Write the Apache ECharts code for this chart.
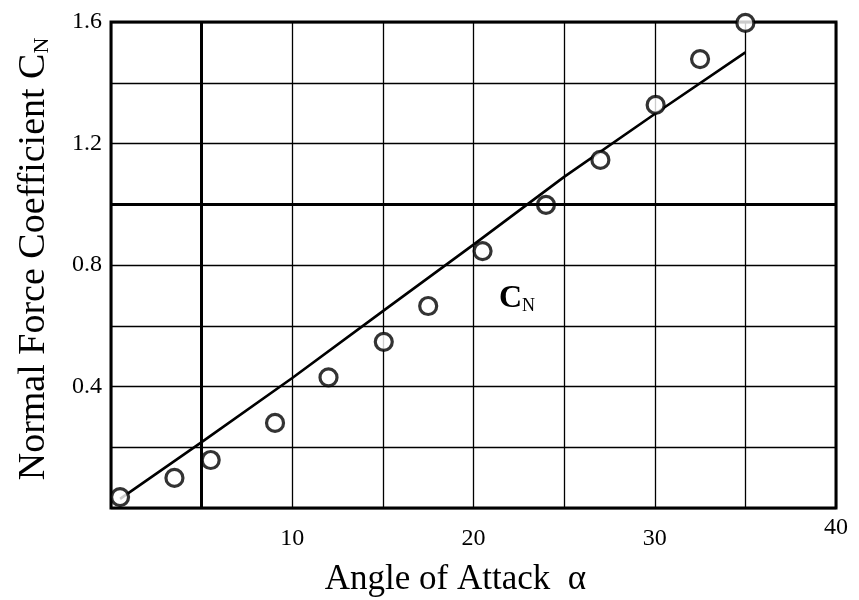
<!DOCTYPE html>
<html>
<head>
<meta charset="utf-8">
<script src="https://cdn.jsdelivr.net/npm/echarts@6/dist/echarts.min.js"></script>
<style>
  html, body { margin: 0; padding: 0; background: #fff; }
  #chart { width: 859px; height: 600px; }
</style>
</head>
<body>
<div id="chart"></div>
<script>
"use strict";

// measured points (angle of attack in deg, C_N)
const alphaPts = [0.5, 3.5, 5.5, 9.05, 12.0, 15.05, 17.5, 20.5, 24.0, 27.0, 30.05, 32.5, 35.0];
const cnPts = [0.036, 0.099, 0.158, 0.28, 0.43, 0.547, 0.665, 0.846, 0.998, 1.146, 1.327, 1.478, 1.597];

// fitted curve
const alphaLine = [0.5, 5, 10, 15, 20, 25, 30, 35];
const cnLine = [0.03, 0.217, 0.428, 0.648, 0.867, 1.09, 1.297, 1.50];

// ticks that carry a label
const xTickLabels = [10, 20, 30, 40];
const yTickLabels = [0.4, 0.8, 1.2, 1.6];
const xRaisedLabel = 40;

// heavier grid lines and curve label anchor (data units)
const heavyX = 5;
const heavyY = 1.0;
const cnLabelAt = [22.4, 0.69];

const serif = "'Liberation Serif', 'Times New Roman', serif";

var chart = echarts.init(document.getElementById('chart'));

chart.setOption({
  animation: false,
  backgroundColor: '#fff',
  grid: {
    left: 111,
    top: 22,
    right: 23,
    bottom: 92,
    outerBoundsMode: 'none',
    show: true,
    borderColor: '#000',
    borderWidth: 3,
    backgroundColor: 'transparent'
  },
  xAxis: {
    type: 'value',
    min: 0,
    max: 40,
    interval: 5,
    axisLine: { show: false },
    axisTick: { show: false },
    splitLine: { show: true, lineStyle: { color: '#000', width: 1.3 } },
    axisLabel: {
      margin: 31,
      verticalAlign: 'middle',
      color: '#000',
      fontFamily: serif,
      fontSize: 24,
      formatter: function (v) {
        if (xTickLabels.indexOf(v) < 0) return '';
        if (v === xRaisedLabel) return '{t|' + v + '}\n{gap| }';
        return '{t|' + v + '}';
      },
      rich: {
        t: { fontFamily: serif, fontSize: 24, color: '#000', lineHeight: 26 },
        gap: { fontSize: 10, lineHeight: 22 }
      }
    },
    name: 'Angle of Attack  \u03b1',
    nameLocation: 'middle',
    nameGap: 52,
    nameTextStyle: {
      color: '#000',
      fontFamily: serif,
      fontSize: 35,
      padding: [0, 36, 0, 0]
    }
  },
  yAxis: {
    type: 'value',
    min: 0,
    max: 1.6,
    interval: 0.2,
    axisLine: { show: false },
    axisTick: { show: false },
    splitLine: { show: true, lineStyle: { color: '#000', width: 1.3 } },
    axisLabel: {
      margin: 9,
      color: '#000',
      fontFamily: serif,
      fontSize: 24,
      formatter: function (v) {
        var hit = yTickLabels.some(function (t) { return Math.abs(t - v) < 1e-6; });
        return hit ? v.toFixed(1) : '';
      }
    },
    name: 'Normal Force Coefficient C{sub|N}',
    nameLocation: 'middle',
    nameRotate: 90,
    nameGap: 58,
    nameTextStyle: {
      color: '#000',
      fontFamily: serif,
      fontSize: 38,
      padding: [0, 0, 0, 12],
      rich: {
        sub: { fontFamily: serif, fontSize: 22, color: '#000', padding: [16, 0, 0, 0] }
      }
    }
  },
  series: [
    {
      type: 'line',
      data: alphaLine.map(function (a, i) { return [a, cnLine[i]]; }),
      showSymbol: false,
      symbol: 'none',
      lineStyle: { color: '#000', width: 2.6 },
      z: 3,
      markLine: {
        silent: true,
        symbol: 'none',
        label: { show: false },
        lineStyle: { color: '#000', width: 3, type: 'solid' },
        data: [{ xAxis: heavyX }, { yAxis: heavyY }]
      },
      markPoint: {
        silent: true,
        symbol: 'circle',
        symbolSize: 1,
        itemStyle: { color: 'transparent' },
        data: [{ coord: cnLabelAt }],
        label: {
          show: true,
          position: 'inside',
          formatter: '{c|C}{n|N}',
          rich: {
            c: { fontFamily: serif, fontSize: 32, fontWeight: 'bold', color: '#000' },
            n: { fontFamily: serif, fontSize: 18, color: '#000', padding: [16, 0, 0, 0] }
          }
        }
      }
    },
    {
      type: 'scatter',
      data: alphaPts.map(function (a, i) { return [a, cnPts[i]]; }),
      symbol: 'circle',
      symbolSize: 17,
      itemStyle: { color: '#fff', borderColor: '#000', borderWidth: 3.2 },
      z: 4
    }
  ]
});
</script>
</body>
</html>
